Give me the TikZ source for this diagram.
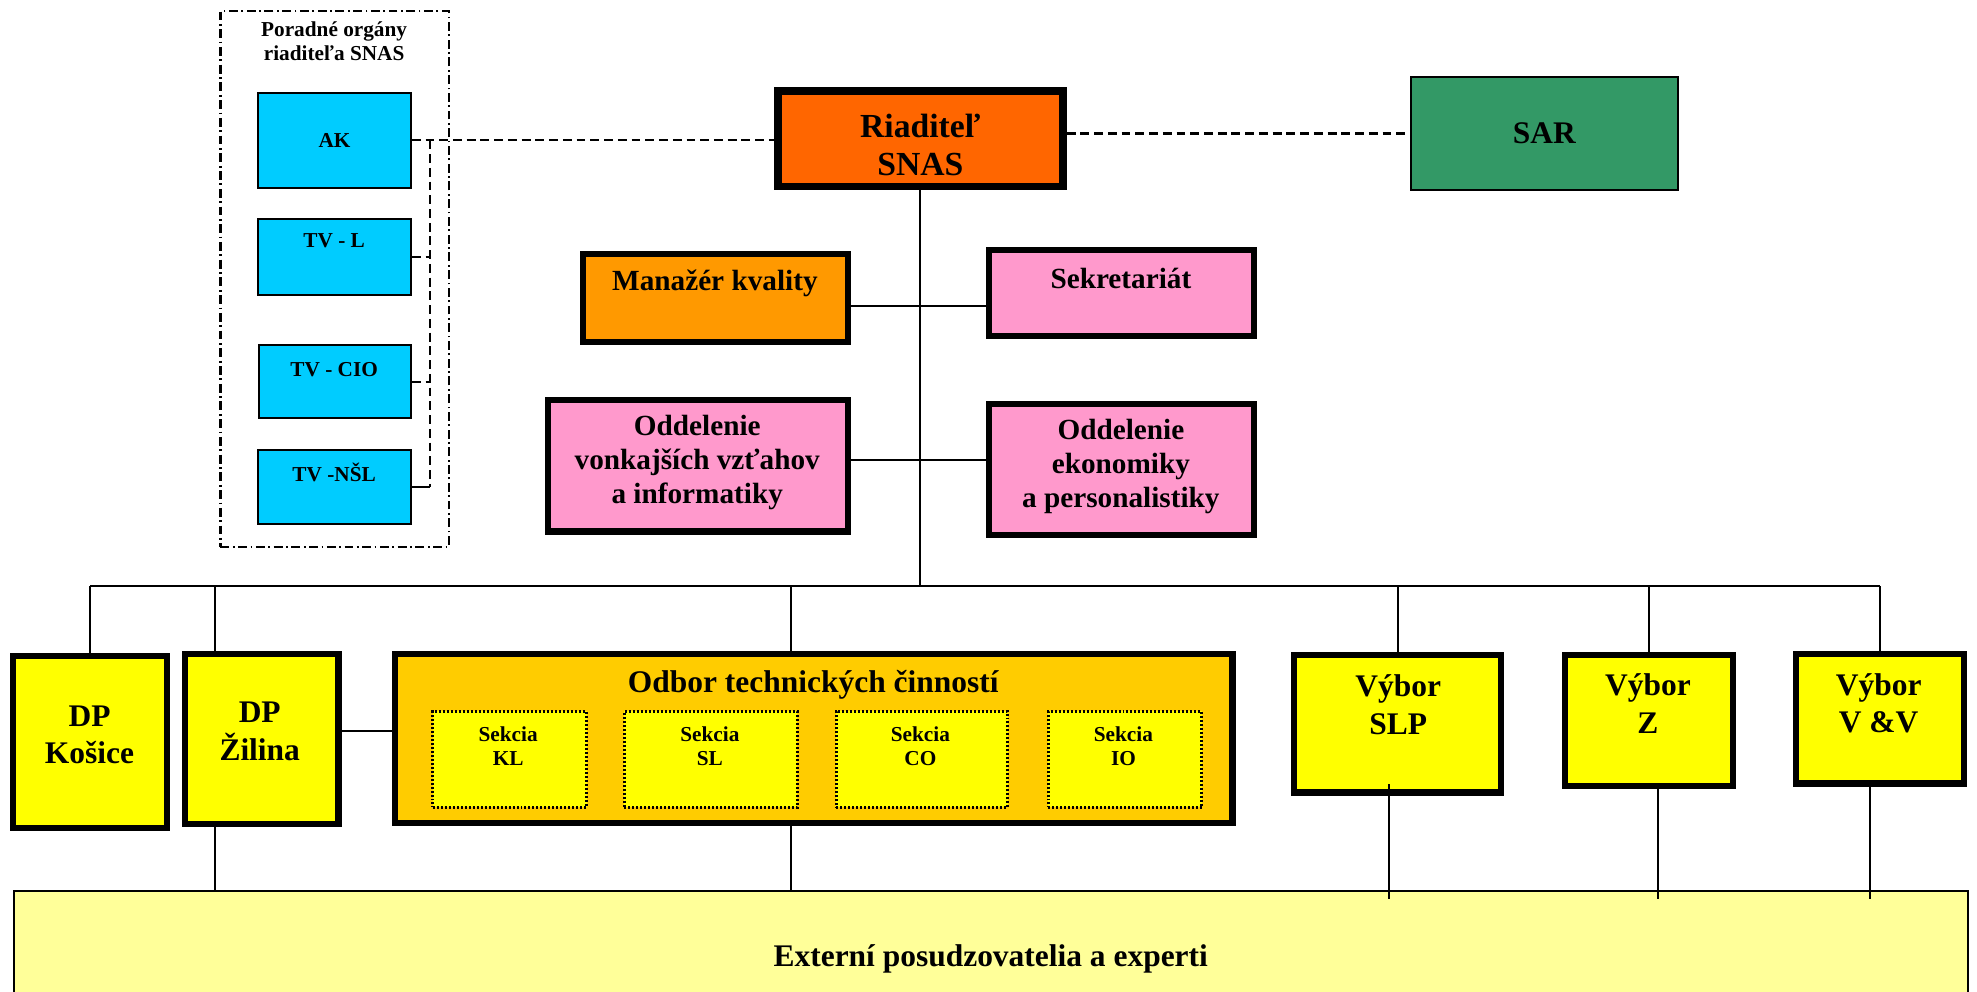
\documentclass[tikz,border=0pt]{standalone}
\usepackage{fontspec}
\setmainfont{Liberation Serif}
\usetikzlibrary{calc}

\definecolor{riadcol}{HTML}{FF6600}
\definecolor{sarcol}{HTML}{339966}
\definecolor{mkcol}{HTML}{FF9900}
\definecolor{pinkcol}{HTML}{FF99CC}
\definecolor{bluecol}{HTML}{00CCFF}
\definecolor{yelcol}{HTML}{FFFF00}
\definecolor{odbcol}{HTML}{FFCC00}
\definecolor{extcol}{HTML}{FFFF99}

\tikzset{
  thickbox/.style={draw, line width=1.4pt, inner sep=0pt, anchor=north west},
  thinbox/.style={draw, line width=0.45pt, inner sep=0pt, anchor=north west},
  secbox/.style={draw, line width=0.7pt, dash pattern=on 0.45pt off 0.45pt, fill=yelcol, inner sep=0pt, anchor=north west},
  dashline/.style={line width=0.5pt, dash pattern=on 2pt off 1.1pt},
  conn/.style={line width=0.45pt},
  txtbig/.style={font=\fontsize{7.6}{8.5}\selectfont\bfseries, align=center, inner sep=0pt},
  txtmid/.style={font=\fontsize{7.1}{8.4}\selectfont\bfseries, align=center, inner sep=0pt},
  txtbox/.style={font=\fontsize{6.6}{7.7}\selectfont\bfseries, align=center, inner sep=0pt},
  txtsmall/.style={font=\fontsize{4.8}{5.4}\selectfont\bfseries, align=center, inner sep=0pt}
}

\begin{document}
\begin{tikzpicture}[x=0.1mm, y=-0.1mm]
        \useasboundingbox (0,0) rectangle (1568,786);
        \clip (0,0) rectangle (1568,786);

        % Poradne organy
        \node[draw, line width=0.5pt, dash pattern=on 2pt off 0.8pt on 0.4pt off 0.8pt,
            minimum width=18.1mm, minimum height=42.5mm, inner sep=0pt, anchor=north west] (por) at (174,8) {};
        \node[txtsmall] (t-por) at (265,33) {Poradné orgány\\riaditeľa SNAS};
        \node[thinbox, fill=bluecol, minimum width=12.1mm, minimum height=7.5mm, txtsmall] (ak) at (204,73) {AK};
        \node[thinbox, fill=bluecol, minimum width=12.1mm, minimum height=6.0mm] (tvl) at (204,173) {};
        \node[thinbox, fill=bluecol, minimum width=12.0mm, minimum height=5.8mm] (tvcio) at (205,273) {};
        \node[thinbox, fill=bluecol, minimum width=12.1mm, minimum height=5.9mm] (tvnsl) at (204,356) {};
        \node[txtsmall] (t-tvl) at (265,191) {TV - L};
        \node[txtsmall] (t-tvcio) at (265,293) {TV - CIO};
        \node[txtsmall] (t-tvnsl) at (265,375) {TV -NŠL};

        % Riaditel a SAR
        \node[thickbox, line width=1.7pt, fill=riadcol, minimum width=22.6mm, minimum height=7.6mm] (riad) at (614,69) {};
        \node[txtbig] (t-riad) at (730,115) {Riaditeľ\\SNAS};
        \node[thinbox, fill=sarcol, minimum width=21.2mm, minimum height=9.0mm, txtmid] (sar) at (1118,60) {SAR};

        % Stabne utvary
        \node[thickbox, fill=mkcol, minimum width=21.0mm, minimum height=7.0mm] (mk) at (460,199) {};
        \node[thickbox, fill=pinkcol, minimum width=21.0mm, minimum height=6.8mm] (sek) at (782,196) {};
        \node[thickbox, fill=pinkcol, minimum width=23.8mm, minimum height=10.4mm] (ov) at (432,315) {};
        \node[thickbox, fill=pinkcol, minimum width=21.0mm, minimum height=10.4mm] (oe) at (782,318) {};
        \node[txtbox] (t-mk) at (567,225) {Manažér kvality};
        \node[txtbox] (t-sek) at (889,221) {Sekretariát};
        \node[txtbox] (t-ov) at (553,367) {Oddelenie\\vonkajších vzťahov\\a informatiky};
        \node[txtbox] (t-oe) at (889,370) {Oddelenie\\ekonomiky\\a personalistiky};

        % Pracoviska, odbor, vybory
        \node[thickbox, fill=yelcol, minimum width=12.2mm, minimum height=13.6mm] (kos) at (8,518) {};
        \node[thickbox, fill=yelcol, minimum width=12.2mm, minimum height=13.5mm] (zil) at (144,516) {};
        \node[thickbox, fill=odbcol, minimum width=66.4mm, minimum height=13.4mm] (odbor) at (311,516) {};
        \node[secbox, minimum width=12.2mm, minimum height=7.6mm] (skl) at (342,563) {};
        \node[secbox, minimum width=13.7mm, minimum height=7.6mm] (ssl) at (494,563) {};
        \node[secbox, minimum width=13.6mm, minimum height=7.6mm] (sco) at (662,563) {};
        \node[secbox, minimum width=12.2mm, minimum height=7.6mm] (sio) at (830,563) {};
        \node[thickbox, fill=yelcol, minimum width=16.4mm, minimum height=10.9mm] (vslp) at (1024,517) {};
        \node[thickbox, fill=yelcol, minimum width=13.3mm, minimum height=10.4mm] (vz) at (1239,517) {};
        \node[thickbox, fill=yelcol, minimum width=13.3mm, minimum height=10.3mm] (vvv) at (1422,516) {};

        \node[txtmid] (t-kos) at (71,583) {DP\\Košice};
        \node[txtmid] (t-zil) at (206,580) {DP\\Žilina};
        \node[txtmid] (t-odbor) at (645,543) {Odbor technických činností};
        \node[txtsmall] (t-skl) at (403,592) {Sekcia\\KL};
        \node[txtsmall] (t-ssl) at (563,592) {Sekcia\\SL};
        \node[txtsmall] (t-sco) at (730,592) {Sekcia\\CO};
        \node[txtsmall] (t-sio) at (891,592) {Sekcia\\IO};
        \node[txtmid] (t-vslp) at (1109,559) {Výbor\\SLP};
        \node[txtmid] (t-vz) at (1307,558) {Výbor\\Z};
        \node[txtmid] (t-vvv) at (1490,558) {Výbor\\V \&V};

        % Externi
        \node[thinbox, fill=extcol, minimum width=155mm, minimum height=10.8mm, txtmid] (ext) at (10,706) {Externí posudzovatelia a experti};

        % Prepojenia
        \draw[dashline] (ak.east) -- (ak.east -| riad.west);
        \draw[dashline] (riad.east |- sar.west) -- (sar.west);
        \coordinate (pbus) at (341,0);
        \draw[dashline] (ak.east -| pbus) -- (tvnsl.east -| pbus);
        \draw[dashline] (tvl.east) -- (tvl.east -| pbus);
        \draw[dashline] (tvcio.east) -- (tvcio.east -| pbus);
        \draw[conn] (tvnsl.east) -- (tvnsl.east -| pbus);

        \coordinate (bus) at (0,465);
        \draw[conn] (riad.south) -- (riad.south |- bus);
        \draw[conn] ($(mk.east)+(0,6.5)$) -- ($(mk.east -| sek.west)+(0,6.5)$);
        \draw[conn] ($(ov.east)+(0,-4.5)$) -- ($(ov.east -| oe.west)+(0,-4.5)$);
        \draw[conn] (kos.north |- bus) -- (vvv.north |- bus);
        \foreach \n in {kos, vslp, vz, vvv}
            \draw[conn] (\n.north |- bus) -- (\n.north);
        \coordinate (zdrop) at ([xshift=-3.7mm]zil.north);
        \coordinate (odrop) at ([xshift=-1.8mm]odbor.north);
        \draw[conn] (zdrop |- bus) -- (zdrop);
        \draw[conn] (odrop |- bus) -- (odrop);
        \draw[conn] ($(zil.east)+(0,-6)$) -- ($(zil.east -| odbor.west)+(0,-6)$);
        \draw[conn] (zdrop |- zil.south) -- (zdrop |- ext.north);
        \draw[conn] (odrop |- odbor.south) -- (odrop |- ext.north);
        \foreach \n/\dx/\up in {vslp/-6.5/9, vz/7/0, vvv/-8/0}
            \draw[conn] ($(\n.south)+(\dx,-\up)$) -- ($(\n.south |- ext.north)+(\dx,7)$);
\end{tikzpicture}
\end{document}
